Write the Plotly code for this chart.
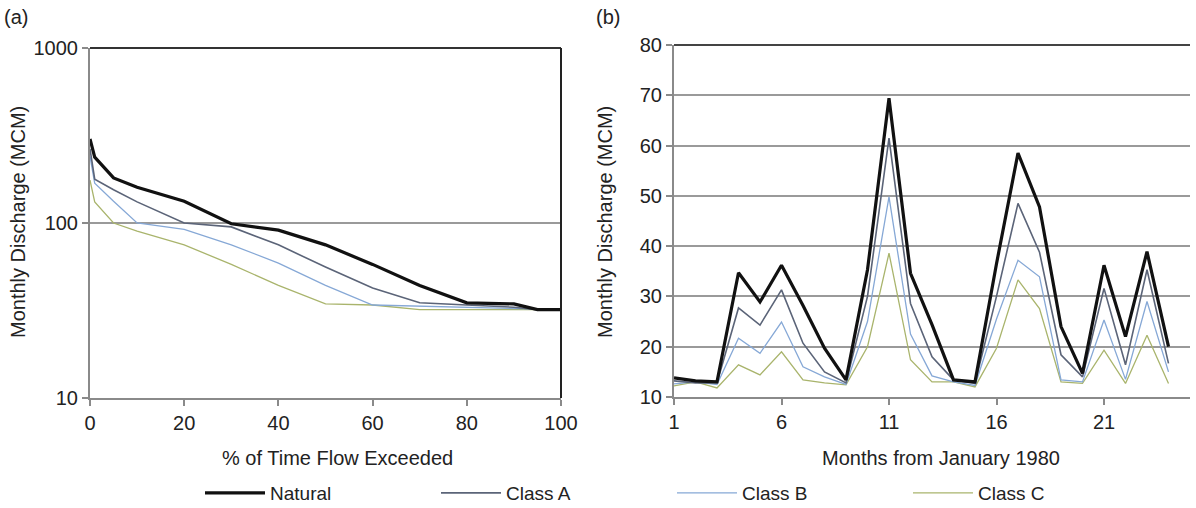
import plotly.graph_objects as go

# ---- Panel (a): flow duration curves ----
pct_exceeded = [0, 1, 5, 10, 20, 30, 40, 50, 60, 70, 80, 90, 95, 100]
natural_fdc = [302, 238, 181, 160, 133, 99, 91, 75, 58, 44, 35, 34.5, 32, 32]
classA_fdc = [265, 178, 155, 132, 100, 95, 75, 56, 42.5, 35, 34, 33, 32, 32]
classB_fdc = [240, 169, 133, 100, 92, 75, 59, 44, 34, 33.5, 33, 32.5, 32, 32]
classC_fdc = [176, 132, 100, 90, 75, 58, 44, 34.5, 34, 32, 32, 32, 32, 32]

# ---- Panel (b): monthly series ----
months = list(range(1, 25))
natural_ts = [13.8, 13.2, 13.0, 34.7, 28.9, 36.2, 28.2, 19.7, 13.4, 35.3, 69.4, 34.6,
              24.4, 13.4, 13.0, 36.5, 58.5, 47.8, 24.0, 14.7, 36.2, 22.0, 38.9, 20.0]
classA_ts = [13.2, 12.8, 12.8, 27.7, 24.3, 31.3, 20.7, 15.0, 12.8, 30.0, 61.5, 28.6,
             18.0, 13.4, 12.7, 30.0, 48.5, 38.8, 18.4, 14.0, 31.6, 16.4, 35.3, 16.7]
classB_ts = [12.6, 13.0, 12.5, 21.7, 18.7, 24.9, 16.0, 14.0, 12.5, 25.0, 49.8, 22.5,
             14.2, 13.0, 12.3, 25.5, 37.2, 33.9, 13.4, 13.0, 25.3, 13.5, 29.0, 15.0]
classC_ts = [12.2, 13.0, 11.8, 16.4, 14.4, 19.0, 13.4, 12.8, 12.4, 20.0, 38.6, 17.4,
             13.0, 13.0, 12.0, 19.7, 33.3, 27.6, 13.0, 12.7, 19.3, 12.7, 22.3, 12.7]

series_names = ["Natural", "Class A", "Class B", "Class C"]
colors = ["#111111", "#5b6478", "#86a8d6", "#a9b46c"]
widths = [3.2, 1.6, 1.3, 1.3]

fdc = [natural_fdc, classA_fdc, classB_fdc, classC_fdc]
ts = [natural_ts, classA_ts, classB_ts, classC_ts]

fig = go.Figure()
order = [3, 2, 1, 0]  # draw Natural last (on top)
for i in order:
    fig.add_trace(go.Scatter(x=pct_exceeded, y=fdc[i], mode="lines", name=series_names[i],
                             line=dict(color=colors[i], width=widths[i]),
                             xaxis="x", yaxis="y", showlegend=False))
for i in order:
    fig.add_trace(go.Scatter(x=months, y=ts[i], mode="lines", name=series_names[i],
                             line=dict(color=colors[i], width=widths[i]),
                             xaxis="x2", yaxis="y2", showlegend=True, legendrank=i + 1))

W, H = 1196, 508
FAM = "Liberation Sans, Arial, sans-serif"
tick_font = dict(family=FAM, size=20, color="#222222")
title_font = dict(family=FAM, size=20, color="#222222")
axis_col = "#8a8a8a"
grid_col = "#9a9a9a"

common_ax = dict(zeroline=False, showline=True, linecolor=axis_col, linewidth=2,
                 ticks="outside", ticklen=6, tickcolor=axis_col, tickwidth=2,
                 tickfont=tick_font, automargin=False)

fig.update_layout(
    width=W, height=H,
    margin=dict(l=0, r=0, t=0, b=0, autoexpand=False),
    paper_bgcolor="white", plot_bgcolor="white",
    font=tick_font,
    xaxis=dict(domain=[90 / W, 561 / W], range=[0, 100], tickvals=[0, 20, 40, 60, 80, 100],
               showgrid=False, anchor="y", **common_ax),
    yaxis=dict(domain=[1 - 398 / H, 1 - 48 / H], type="log", range=[1, 3],
               tickvals=[10, 100, 1000], ticktext=["10", "100", "1000"],
               showgrid=True, gridcolor=grid_col, gridwidth=1.5, anchor="x", **common_ax),
    xaxis2=dict(domain=[674 / W, 1190 / W], range=[1, 25], tickvals=[1, 6, 11, 16, 21],
                showgrid=False, anchor="y2", **common_ax),
    yaxis2=dict(domain=[1 - 397 / H, 1 - 45 / H], range=[10, 80], dtick=10,
                showgrid=True, gridcolor=grid_col, gridwidth=1.5, anchor="x2", **common_ax),
    legend=dict(orientation="h", x=200 / W, xanchor="left", y=1 - 493 / H, yanchor="middle",
                entrywidth=161, entrywidthmode="pixels", itemwidth=60,
                font=dict(family=FAM, size=19, color="#222222"),
                bgcolor="rgba(0,0,0,0)", traceorder="normal"),
    showlegend=True,
)

# Borders (top/right of panel a, top of panel b)
fig.add_shape(type="line", xref="x domain", yref="y domain", x0=0, x1=1, y0=1, y1=1,
              line=dict(color="#333333", width=2))
fig.add_shape(type="line", xref="x domain", yref="y domain", x0=1, x1=1, y0=0, y1=1,
              line=dict(color="#222222", width=2))
fig.add_shape(type="line", xref="x2 domain", yref="y2 domain", x0=0, x1=1, y0=1, y1=1,
              line=dict(color="#444444", width=2))

# Axis titles and panel labels
def ann(text, x, y, angle=0, f=title_font):
    fig.add_annotation(text=text, xref="paper", yref="paper", x=x / W, y=1 - y / H,
                       xanchor="center", yanchor="middle", showarrow=False,
                       textangle=angle, font=f)

ann("% of Time Flow Exceeded", 337, 458)
ann("Months from January 1980", 941, 458)
ann("Monthly Discharge (MCM)", 18, 222, angle=-90)
ann("Monthly Discharge (MCM)", 605, 222, angle=-90)
ann("(a)", 16, 17)
ann("(b)", 608, 17)

fig.write_html("out.html", config={"displayModeBar": False},
               post_script="document.body.style.margin='0';document.body.style.overflow='hidden';")
